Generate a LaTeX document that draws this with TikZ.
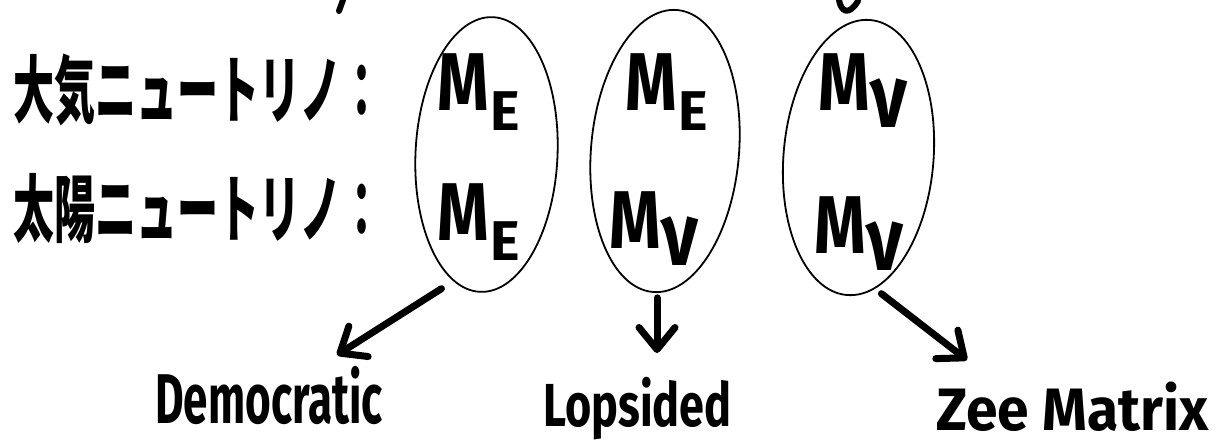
\documentclass[tikz,border=0pt]{standalone}
\usepackage{fontspec}
\setmainfont{Fira Sans}
\newfontfamily\jpfont{Noto Sans CJK JP}
\usetikzlibrary{shapes.geometric,arrows.meta}

% mass matrix symbols: M with a lowered subscript
\newcommand{\mE}{\scalebox{0.8}[1]{\fontsize{82}{82}\selectfont\bfseries M}\kern2pt\raisebox{-20pt}{\fontsize{56}{56}\selectfont\bfseries E}}
\newcommand{\mNu}{\scalebox{0.8}[1]{\fontsize{82}{82}\selectfont\bfseries M}\kern1pt\raisebox{-17pt}{\scalebox{1.1}[1.35]{\fontsize{66}{66}\selectfont\bfseries ν}}}

\begin{document}
\begin{tikzpicture}[x=1pt,y=-1pt,
  group/.style={ellipse, draw, line width=1.8pt, inner sep=0pt},
  entry/.style={anchor=base west, inner sep=0pt},
  jlabel/.style={anchor=base west, inner sep=0pt},
  model/.style={anchor=base west, inner sep=0pt},
  arr/.style={line width=7pt, line cap=round, -{Straight Barb[length=22pt,width=36pt,round]}}
]
\fill[white] (0,0) rectangle (1225,445);
\useasboundingbox (0,0) rectangle (1225,445);

% row labels
\node[jlabel] (atm) at (13,117) {\scalebox{1}[1.8]{\jpfont\bfseries\fontsize{41}{41}\selectfont 大気ニュートリノ：}};
\node[jlabel] (sol) at (13,236) {\scalebox{1}[1.8]{\jpfont\bfseries\fontsize{41}{41}\selectfont 太陽ニュートリノ：}};

% the three groupings, each leaning slightly to the right at the top
\node[group, minimum width=142pt, minimum height=275pt, rotate=-2.7] (g1) at (486.5,154.5) {};
\node[group, minimum width=148pt, minimum height=283pt, rotate=-4.9] (g2) at (665,151) {};
\node[group, minimum width=150pt, minimum height=276pt, rotate=-4.8] (g3) at (858.5,157.5) {};

% matrix entries
\node[entry] (e11) at (437,110) {\mE};
\node[entry] (e21) at (437,240) {\mE};
\node[entry] (e12) at (625,110) {\mE};
\node[entry] (e22) at (609,248) {\mNu};
\node[entry] (e13) at (818,110) {\mNu};
\node[entry] (e23) at (814,253) {\mNu};

% model names
\node[model] (dem) at (155,423) {\scalebox{1}[1.6]{\bfseries\fontsize{44}{44}\selectfont Democratic}};
\node[model] (lop) at (543,426) {\scalebox{1}[1.35]{\bfseries\fontsize{45}{45}\selectfont Lopsided}};
\node[model] (zee) at (936,430) {\scalebox{1}[1.05]{\bfseries\fontsize{57}{57}\selectfont Zee Matrix}};

% arrow tips just above the names
\coordinate (t1) at (337,355);
\coordinate (t2) at (657,353);
\coordinate (t3) at (967,360);

\draw[arr, shorten <=14pt] (g1.258) -- (t1);
\draw[arr, shorten <=5pt] (g2.south -| t2) -- (t2);
\draw[arr, shorten <=8pt] (g3.282) -- (t3);

% ink fragments along the top edge
\draw[line width=6pt, line cap=round] (343,0) -- (339,11);
\draw[line width=6pt, line cap=round] (839,0) .. controls (841,12) and (849,16) .. (858,1);
\end{tikzpicture}
\end{document}
